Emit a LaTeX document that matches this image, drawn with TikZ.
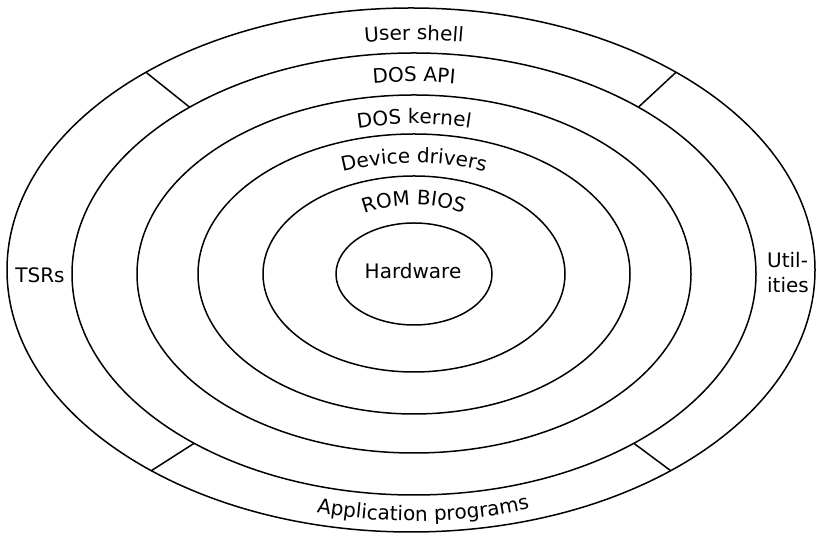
\documentclass[tikz,border=0pt]{standalone}
\usepackage{fontspec}
\setmainfont{DejaVu Sans}
\usetikzlibrary{calc,decorations.text}

\newcommand{\labelfont}{\fontsize{20}{25}\selectfont}

\newcommand{\drawring}[4]{
\draw[ring] (#1, #2) ellipse [x radius=#3, y radius=#4];
}
\newcommand{\toplabel}[3]{
\path[decorate, decoration={text along path, text align=center,
  text={|\labelfont|#3}}]
($(mid)+(160:#1 and #2)$) arc [start angle=160, end angle=20, x radius=#1, y radius=#2];
}
\newcommand{\bottomlabel}[3]{
\path[decorate, decoration={text along path, text align=center,
  text={|\labelfont|#3}}]
($(mid)+(202:#1 and #2)$) arc [start angle=202, end angle=342, x radius=#1, y radius=#2];
}
\newcommand{\drawdivider}[1]{
\coordinate (o#1) at ($(c1)+(#1:404 and 262)$);
\coordinate (i#1) at ($(c2)+(#1:342 and 221)$);
\draw[ring] (o#1) -- (i#1);
}

\begin{document}
\begin{tikzpicture}[x=1pt, y=1pt,
  ring/.style={line width=1.5pt, color=black},
  every node/.style={font=\labelfont, inner sep=0pt}]
\useasboundingbox (0, 0) rectangle (816, 534);

\coordinate (c1) at (411, 264);
\coordinate (c2) at (414, 260);
\coordinate (mid) at (414, 261);

\drawring{411}{264}{404}{262}
\drawring{414}{260}{342}{221}
\drawring{414}{260}{277}{179}
\drawring{414}{260}{216}{140}
\drawring{414}{260}{151}{98}
\drawring{414}{260}{78}{51}

\drawdivider{131}
\drawdivider{49}
\drawdivider{230}
\drawdivider{310}

\toplabel{359}{233}{User shell}
\toplabel{295}{191}{DOS API}
\toplabel{235}{149}{DOS kernel}
\toplabel{185}{110}{Device drivers}
\toplabel{102}{68}{ROM BIOS}
\bottomlabel{373}{248}{Application programs}

\node (hw) at (413, 263) {Hardware};
\node (tsr) at (40, 259) {TSRs};
\node[align=left] (util) at (788, 261) {Util-\\ities};

\end{tikzpicture}
\end{document}
